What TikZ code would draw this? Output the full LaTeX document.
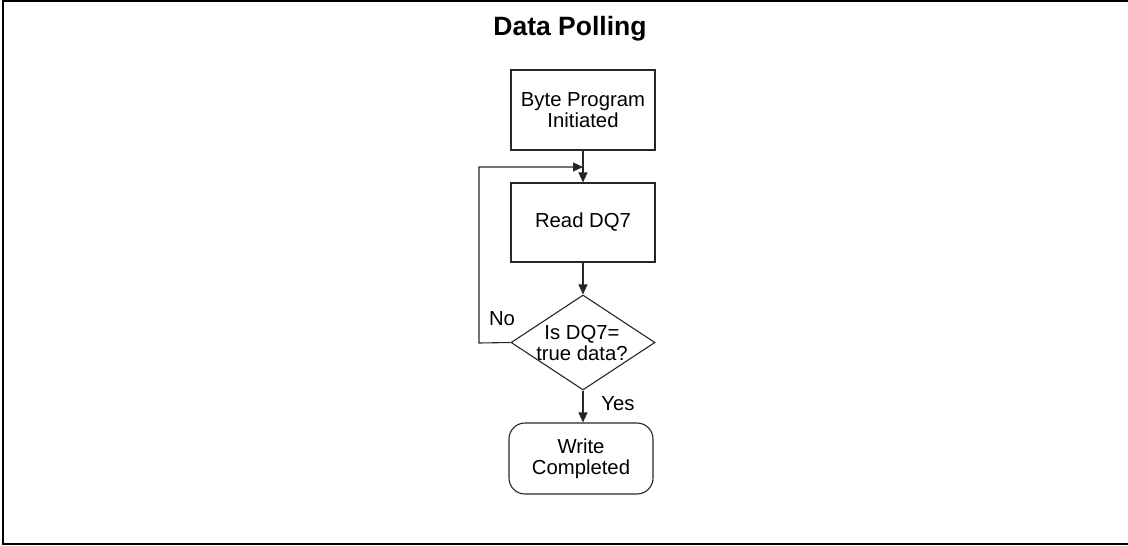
\documentclass[tikz,border=0pt]{standalone}
\usepackage{fontspec}
\setmainfont{Liberation Sans}
\usetikzlibrary{shapes.geometric,arrows.meta}
\begin{document}
\begin{tikzpicture}[x=1pt,y=-1pt,
  box/.style={draw=black!85, line width=1.1pt, minimum width=144pt, inner sep=0pt, align=center,
    font=\fontsize{20.3}{21}\selectfont},
  txt/.style={align=center, inner sep=0pt, font=\fontsize{20.3}{21}\selectfont},
  conn/.style={draw=black!85, line width=1.1pt},
  arr/.style={conn, -{Triangle[length=10pt,width=9pt]}}]
\useasboundingbox (0,0) rectangle (1128,546);
\draw[line width=2pt] (1128,1) -- (3,1) -- (3,544) -- (1128,544);
\node[font=\fontsize{26.5}{28}\selectfont\bfseries] (title) at (570,29) {Data Polling};
\node[box, minimum height=80pt] (byte) at (583,110) {Byte Program\\Initiated};
\node[box, minimum height=79pt] (read) at (583,222.5) {Read DQ7};
\node[diamond, draw=black!85, line width=1.1pt, minimum width=144pt, minimum height=95pt, inner sep=0pt, aspect=1.5] (dec) at (583,342.5) {};
\node[txt] (dectxt) at (582,343) {Is DQ7=\\true data?};
\node[box, rounded corners=16pt, minimum height=71pt] (write) at (581,458.5) {Write\\Completed};
\coordinate (lb) at (479,343);
\coordinate (lt) at (479,167);
\coordinate (lj) at (583,167);
\draw[arr] (byte.south) -- (read.north);
\draw[arr] (dec.west) -- (lb) -- (lt) -- (lj);
\draw[arr] (read.south) -- (dec.north);
\draw[arr] (dec.south) -- (dec.south |- write.north);
\node[txt] (no) at (502,319) {No};
\node[txt] (yes) at (618,404) {Yes};
\end{tikzpicture}
\end{document}
